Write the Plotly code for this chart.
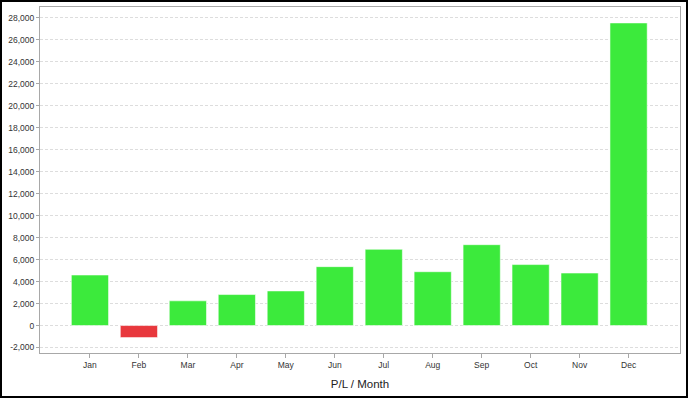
import plotly.graph_objects as go

months = ["Jan", "Feb", "Mar", "Apr", "May", "Jun", "Jul", "Aug", "Sep", "Oct", "Nov", "Dec"]
pl_values = [4600, -1100, 2250, 2820, 3150, 5360, 6940, 4900, 7360, 5550, 4780, 27550]
y_ticks = [-2000, 0, 2000, 4000, 6000, 8000, 10000, 12000, 14000, 16000, 18000,
           20000, 22000, 24000, 26000, 28000]
y_tick_text = [f"{v:,}" for v in y_ticks]

GREEN = "#3cea3c"
RED = "#e8383d"
colors = [GREEN if v >= 0 else RED for v in pl_values]

fig = go.Figure(go.Bar(
    x=list(range(len(months))),
    y=pl_values,
    marker=dict(color=colors, line=dict(color="rgba(255,255,255,0.55)", width=1)),
    hoverinfo="x+y",
))

W, H = 688, 398
L, R, T, B = 40, 8, 7, 45
pw, ph = W - L - R, H - T - B

fig.update_layout(
    width=W, height=H,
    margin=dict(l=L, r=R, t=T, b=B, pad=0),
    paper_bgcolor="white",
    plot_bgcolor="white",
    bargap=0.24,
    showlegend=False,
    font=dict(family="Liberation Sans, Arial, sans-serif", color="#333333"),
    xaxis=dict(
        range=[-1.02, 12.05],
        tickmode="array",
        tickvals=list(range(len(months))),
        ticktext=months,
        tickfont=dict(size=8.5, color="#333333"),
        ticks="outside", ticklen=4, tickcolor="#a8a8a8",
        showline=True, linecolor="#a8a8a8", linewidth=1, mirror=True,
        showgrid=False, zeroline=False, automargin=False,
        title=dict(text="P/L / Month", font=dict(size=11.5, color="#222222"), standoff=10),
    ),
    yaxis=dict(
        range=[-2500, 29000],
        tickmode="array",
        tickvals=y_ticks,
        ticktext=y_tick_text,
        tickfont=dict(size=8.5, color="#333333"),
        ticks="outside", ticklen=3, tickcolor="#a8a8a8",
        showline=True, linecolor="#a8a8a8", linewidth=1, mirror=True,
        showgrid=True, gridcolor="#dddddd", griddash="3px,2px", gridwidth=1,
        zeroline=False, automargin=False,
    ),
    shapes=[dict(
        type="rect", xref="paper", yref="paper",
        x0=(1 - L) / pw, x1=(W - 1 - L) / pw,
        y0=(ph + T - (H - 1)) / ph, y1=(ph + T - 1) / ph,
        line=dict(color="black", width=2), fillcolor="rgba(0,0,0,0)",
        layer="above",
    )],
)

fig.write_html(
    "out.html",
    config={"displayModeBar": False},
    post_script="document.body.style.margin='0';document.body.style.overflow='hidden';",
)
